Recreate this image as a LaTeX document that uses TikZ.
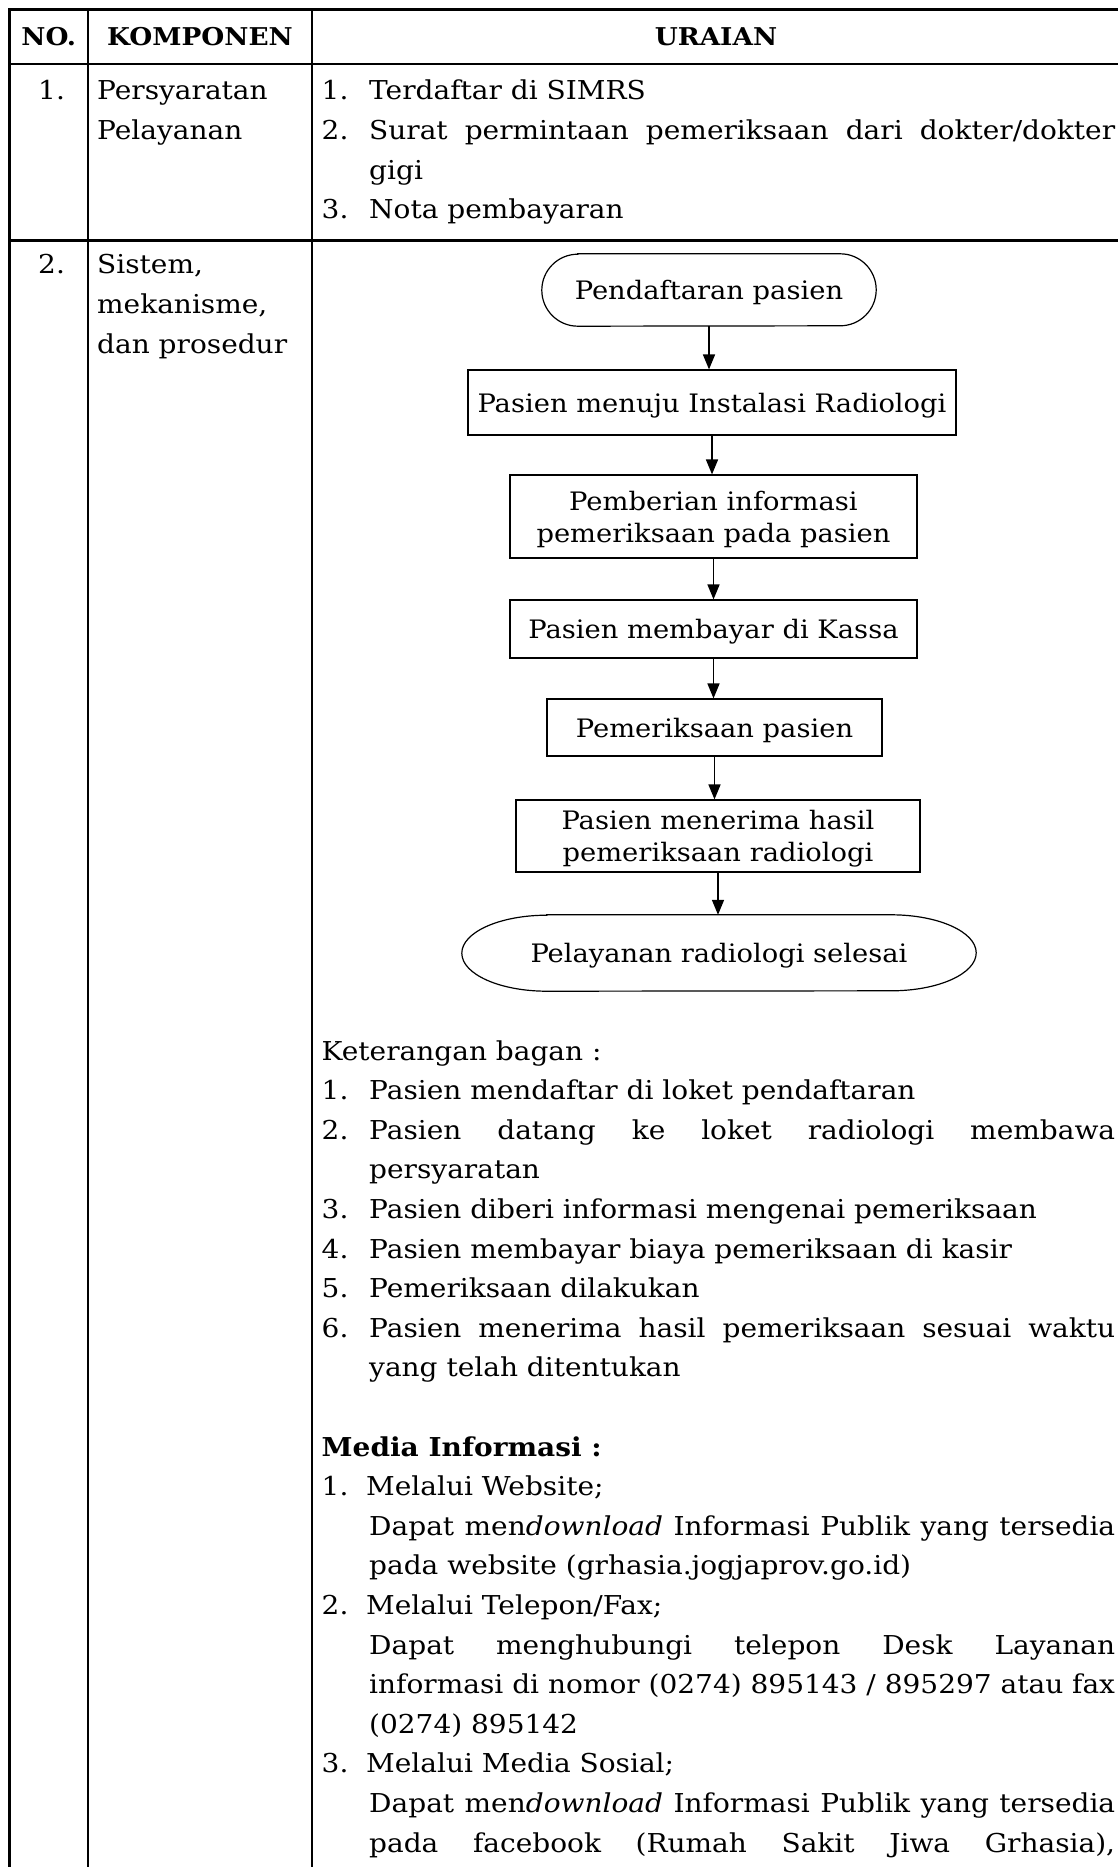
\documentclass[tikz,border=0pt]{standalone}
\usepackage{fontspec}
\setmainfont[FakeStretch=1.077]{DejaVu Serif}
\usetikzlibrary{arrows.meta,calc}

\newcommand\bodyfont{\fontsize{26pt}{39.6pt}\selectfont}
\newcommand\headfont{\bfseries\fontsize{24.5pt}{30pt}\selectfont}
\newcommand\flowfont{\fontsize{25.4pt}{32pt}\selectfont}
\newcommand\fullline[1]{\makebox[746pt][s]{#1}}

\begin{document}
\begin{tikzpicture}[x=1pt,y=-1pt,
  rule/.style={line width=2.6pt,line cap=rect},
  txt/.style={anchor=base west,inner sep=0pt,font=\bodyfont},
  head/.style={anchor=base,inner sep=0pt,font=\headfont},
  procbox/.style={draw,line width=1.2pt,inner sep=0pt,text depth=0pt,align=center,font=\flowfont},
  termbox/.style={inner sep=0pt,text depth=0pt,align=center,font=\flowfont},
  termline/.style={line width=1.2pt},
  flow/.style={line width=1.6pt,-{Triangle[length=15pt,width=12pt]}}]

\useasboundingbox (0,0) rectangle (1117,1867);
\fill[white] (0,0) rectangle (1117,1867);

% table rules
\draw[rule] (9.5,9.5) -- (1117,9.5);
\draw[rule] (9.5,64) -- (1117,64);
\draw[rule] (9.5,240.5) -- (1117,240.5);
\draw[rule] (9.5,9.5) -- (9.5,1867);
\draw[rule] (88,9.5) -- (88,1867);
\draw[rule] (312,9.5) -- (312,1867);

% header
\node[head] (hno) at (48.8,45.5) {NO.};
\node[head] (hkomp) at (200,45.5) {KOMPONEN};
\node[head] (hur) at (716,45.5) {URAIAN};

% row 1
\node[txt] (n1) at (38,100) {1.};
\node[txt] (k1a) at (97,100) {Persyaratan};
\node[txt] (k1b) at (97,139.6) {Pelayanan};
\node[txt] (r1n1) at (321.5,100) {1.};
\node[txt] (r1t1) at (369,100) {Terdaftar di SIMRS};
\node[txt] (r1n2) at (321.5,139.6) {2.};
\node[txt] (r1t2) at (369,139.6) {\fullline{Surat permintaan pemeriksaan dari dokter/dokter}};
\node[txt] (r1t2b) at (369,179.2) {gigi};
\node[txt] (r1n3) at (321.5,218.8) {3.};
\node[txt] (r1t3) at (369,218.8) {Nota pembayaran};

% row 2
\node[txt] (n2) at (38,274) {2.};
\node[txt] (k2a) at (97,274) {Sistem,};
\node[txt] (k2b) at (97,313.6) {mekanisme,};
\node[txt] (k2c) at (97,353.2) {dan prosedur};

% flowchart
\node[termbox,minimum width=334pt,minimum height=72pt] (s1) at (709,290) {Pendaftaran pasien};
\node[procbox,minimum width=488pt,minimum height=65pt] (b2) at (712,402.5) {Pasien menuju Instalasi Radiologi};
\node[procbox,minimum width=407pt,minimum height=83pt] (b3) at (713.5,516.5) {Pemberian informasi\\pemeriksaan pada pasien};
\node[procbox,minimum width=407pt,minimum height=58pt] (b4) at (713.5,629) {Pasien membayar di Kassa};
\node[procbox,minimum width=335pt,minimum height=57pt] (b5) at (714.5,727.5) {Pemeriksaan pasien};
\node[procbox,minimum width=404pt,minimum height=72pt] (b6) at (718,836) {Pasien menerima hasil\\pemeriksaan radiologi};
\node[termbox,minimum width=514pt,minimum height=76pt] (s7) at (719,953) {Pelayanan radiologi selesai};

% terminal outlines with rounded ends
\draw[termline] ([xshift=36pt]s1.north west) -- ([xshift=-36pt]s1.north east)
  arc[start angle=90,end angle=-90,x radius=36pt,y radius=36pt]
  -- ([xshift=36pt]s1.south west)
  arc[start angle=270,end angle=90,x radius=36pt,y radius=36pt] -- cycle;
\draw[termline] ([xshift=85pt]s7.north west) -- ([xshift=-85pt]s7.north east)
  arc[start angle=90,end angle=-90,x radius=85pt,y radius=38pt]
  -- ([xshift=85pt]s7.south west)
  arc[start angle=270,end angle=90,x radius=85pt,y radius=38pt] -- cycle;

\draw[flow] (s1.south) -- (s1.south |- b2.north);
\draw[flow] (b2.south) -- (b2.south |- b3.north);
\draw[flow] (b3.south) -- (b3.south |- b4.north);
\draw[flow] (b4.south) -- (b4.south |- b5.north);
\draw[flow] (b5.south) -- (b5.south |- b6.north);
\draw[flow] (b6.south) -- (b6.south |- s7.north);

% explanation of the chart
\node[txt] (ket) at (321.5,1060) {Keterangan bagan :};
\node[txt] (kn1) at (321.5,1099.6) {1.};
\node[txt] (kt1) at (369,1099.6) {Pasien mendaftar di loket pendaftaran};
\node[txt] (kn2) at (321.5,1139.2) {2.};
\node[txt] (kt2) at (369,1139.2) {\fullline{Pasien datang ke loket radiologi membawa}};
\node[txt] (kt2b) at (369,1178.8) {persyaratan};
\node[txt] (kn3) at (321.5,1218.4) {3.};
\node[txt] (kt3) at (369,1218.4) {Pasien diberi informasi mengenai pemeriksaan};
\node[txt] (kn4) at (321.5,1258) {4.};
\node[txt] (kt4) at (369,1258) {Pasien membayar biaya pemeriksaan di kasir};
\node[txt] (kn5) at (321.5,1297.6) {5.};
\node[txt] (kt5) at (369,1297.6) {Pemeriksaan dilakukan};
\node[txt] (kn6) at (321.5,1337.2) {6.};
\node[txt] (kt6) at (369,1337.2) {\fullline{Pasien menerima hasil pemeriksaan sesuai waktu}};
\node[txt] (kt6b) at (369,1376.8) {yang telah ditentukan};

% information media
\node[txt] (media) at (321.5,1456) {\bfseries Media Informasi :};
\node[txt] (mn1) at (321.5,1495.6) {1.};
\node[txt] (mt1) at (366,1495.6) {Melalui Website;};
\node[txt] (mt1b) at (369,1535.2) {\fullline{Dapat men\textit{download} Informasi Publik yang tersedia}};
\node[txt] (mt1c) at (369,1574.8) {pada website (grhasia.jogjaprov.go.id)};
\node[txt] (mn2) at (321.5,1614.4) {2.};
\node[txt] (mt2) at (366,1614.4) {Melalui Telepon/Fax;};
\node[txt] (mt2b) at (369,1654) {\fullline{Dapat menghubungi telepon Desk Layanan}};
\node[txt] (mt2c) at (369,1693.6) {\fullline{informasi di nomor (0274) 895143 / 895297 atau fax}};
\node[txt] (mt2d) at (369,1733.2) {(0274) 895142};
\node[txt] (mn3) at (321.5,1772.8) {3.};
\node[txt] (mt3) at (366,1772.8) {Melalui Media Sosial;};
\node[txt] (mt3b) at (369,1812.4) {\fullline{Dapat men\textit{download} Informasi Publik yang tersedia}};
\node[txt] (mt3c) at (369,1852) {\fullline{pada facebook (Rumah Sakit Jiwa Grhasia),}};
\end{tikzpicture}
\end{document}
